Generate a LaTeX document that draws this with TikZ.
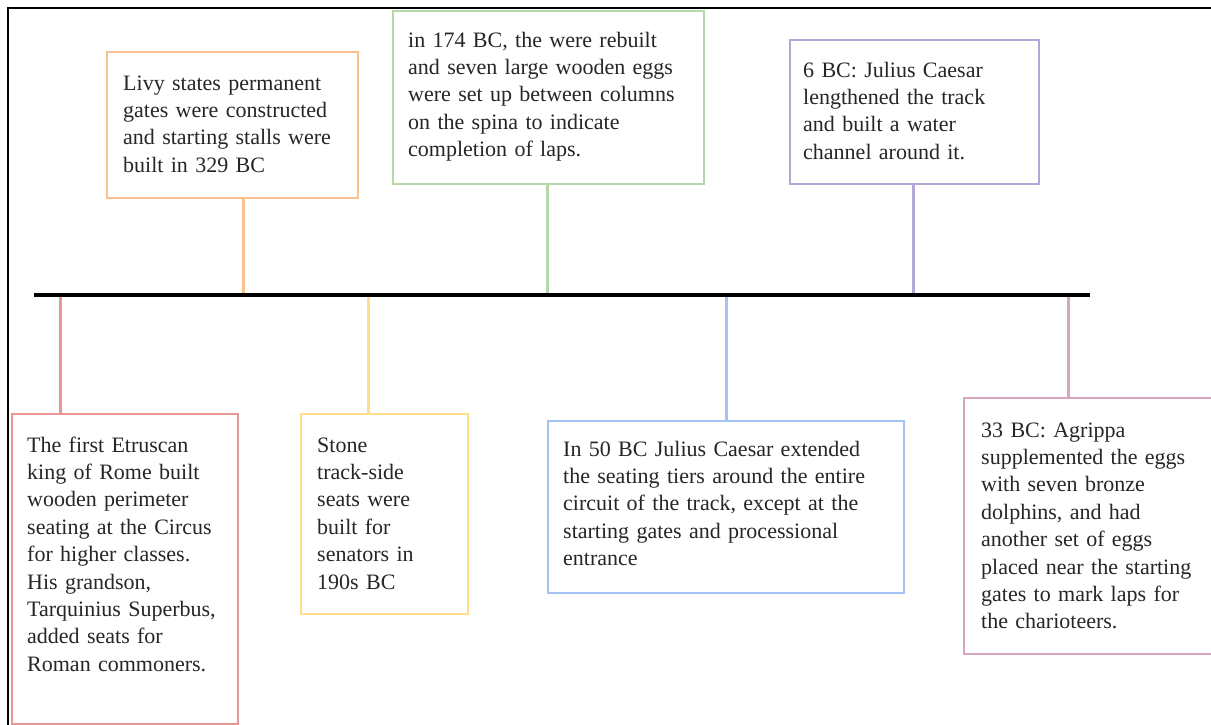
\documentclass[tikz,border=0pt]{standalone}
\usepackage{fontspec}
\setmainfont{Liberation Serif}
\definecolor{cRed}{HTML}{E99696}
\definecolor{cOrange}{HTML}{F9C18E}
\definecolor{cYellow}{HTML}{FFDF8C}
\definecolor{cGreen}{HTML}{B6D7A8}
\definecolor{cBlue}{HTML}{A4C2F4}
\definecolor{cPurple}{HTML}{B4A7D6}
\definecolor{cPink}{HTML}{D5A6BD}
\definecolor{cText}{HTML}{262626}
\begin{document}
\begin{tikzpicture}[x=1pt,y=-1pt,
  evbox/.style={draw, line width=2pt, rectangle, inner sep=0pt, anchor=north west, fill=white},
  evtext/.style={anchor=base west, inner sep=0pt, text width=400pt, align=left, text=cText,
    font=\fontsize{22}{27.4}\selectfont},
  stem/.style={line width=3pt},
  frame/.style={line width=2pt, black}]
\clip (0,0) rectangle (1211,724);
\fill[white] (0,0) rectangle (1211,724);
% outer frame (top and left edges visible)
\coordinate (fa) at (8,730);
\coordinate (fb) at (8,8);
\coordinate (fc) at (1220,8);
\draw[frame] (fa) -- (fb) -- (fc);

% boxes
\node[evbox, draw=cRed, minimum width=226pt, minimum height=310pt] (r) at (11,413) {};
\node[evbox, draw=cOrange, minimum width=251pt, minimum height=146pt] (o) at (106,51) {};
\node[evbox, draw=cYellow, minimum width=167pt, minimum height=200pt] (yl) at (300,413) {};
\node[evbox, draw=cGreen, minimum width=311pt, minimum height=173pt] (g) at (392,10) {};
\node[evbox, draw=cBlue, minimum width=356pt, minimum height=172pt] (b) at (547,420) {};
\node[evbox, draw=cPurple, minimum width=249pt, minimum height=144pt] (pu) at (789,39) {};
\node[evbox, draw=cPink, minimum width=250pt, minimum height=256pt] (k) at (963,397) {};

% texts
\node[evtext] (tr) at (27,452) {The first Etruscan\\king of Rome built\\wooden perimeter\\seating at the Circus\\for higher classes.\\His grandson,\\Tarquinius Superbus,\\added seats for\\Roman commoners.};
\node[evtext] (to) at (123,90) {Livy states permanent\\gates were constructed\\and starting stalls were\\built in 329 BC};
\node[evtext] (ty) at (317,452) {Stone\\track-side\\seats were\\built for\\senators in\\190s BC};
\node[evtext] (tg) at (408,47) {in 174 BC, the were rebuilt\\and seven large wooden eggs\\were set up between columns\\on the spina to indicate\\completion of laps.};
\node[evtext] (tb) at (563,456) {In 50 BC Julius Caesar extended\\the seating tiers around the entire\\circuit of the track, except at the\\starting gates and processional\\entrance};
\node[evtext] (tp) at (803,77) {6 BC: Julius Caesar\\lengthened the track\\and built a water\\channel around it.};
\node[evtext] (tk) at (981,437) {33 BC: Agrippa\\supplemented the eggs\\with seven bronze\\dolphins, and had\\another set of eggs\\placed near the starting\\gates to mark laps for\\the charioteers.};

% timeline anchor points
\coordinate (c1) at (60,294);
\coordinate (c2) at (243,294);
\coordinate (c3) at (368,294);
\coordinate (c4) at (547,294);
\coordinate (c5) at (726,294);
\coordinate (c6) at (913,294);
\coordinate (c7) at (1068,294);

% stems
\draw[stem, cRed] (c1) -- (c1 |- r.north);
\draw[stem, cOrange] (c2) -- (c2 |- o.south);
\draw[stem, cYellow] (c3) -- (c3 |- yl.north);
\draw[stem, cGreen] (c4) -- (c4 |- g.south);
\draw[stem, cBlue] (c5) -- (c5 |- b.north);
\draw[stem, cPurple] (c6) -- (c6 |- pu.south);
\draw[stem, cPink] (c7) -- (c7 |- k.north);

% timeline
\coordinate (tlA) at (34,294.5);
\coordinate (tlB) at (1090,294.5);
\draw[line width=4pt, black] (tlA) -- (tlB);
\end{tikzpicture}
\end{document}
